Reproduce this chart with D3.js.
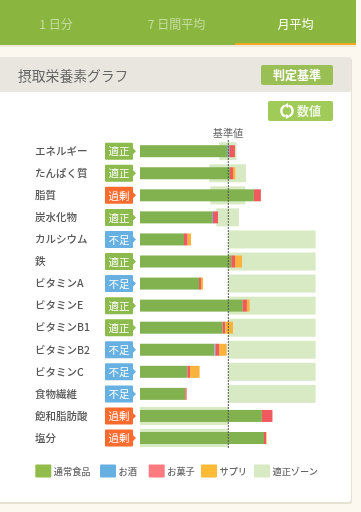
<!DOCTYPE html>
<html lang="ja">
<head>
<meta charset="UTF-8">
<title>摂取栄養素グラフ</title>
<script src="https://d3js.org/d3.v7.min.js"></script>
<style>
  html, body { margin: 0; padding: 0; background: #fdf8ef; overflow: hidden; }
  svg { display: block; font-family: "Noto Sans CJK JP", sans-serif; filter: blur(0.35px); }
</style>
</head>
<body>
<svg id="chart" width="361" height="512"></svg>
<script>
// values are percent of the reference value (基準値 = 100)
const nutrients = ["エネルギー", "たんぱく質", "脂質", "炭水化物", "カルシウム", "鉄", "ビタミンA", "ビタミンE", "ビタミンB1", "ビタミンB2", "ビタミンC", "食物繊維", "飽和脂肪酸", "塩分"];
const verdicts = ["適正", "適正", "過剰", "適正", "不足", "適正", "不足", "適正", "適正", "不足", "不足", "不足", "過剰", "過剰"];
const food = [98.9, 101.9, 129, 81.5, 49.8, 103.4, 66.8, 116.2, 93.6, 84.2, 53.6, 51.3, 138, 140.4];
const alcohol = [2.2, 0, 0, 1.1, 0, 0, 0, 0, 0, 1.1, 0, 0, 0, 0];
const sweets = [6.4, 3.4, 7.9, 5.7, 4.2, 4.2, 2.3, 4.9, 3, 4.2, 3, 1.5, 12, 2.4];
const supplement = [0, 2.6, 0, 0, 3.8, 7.9, 2.3, 3, 8.7, 8.7, 10.9, 0, 0, 0.6];
const zoneLow = [89.8, 78.5, 79.6, 86.4, 100, 100, 100, 100, 100, 100, 100, 100, 0, 0];
const zoneHigh = [109.4, 120, 119.2, 112, 198.9, 198.9, 198.9, 198.9, 198.9, 198.9, 198.9, 198.9, 100, 100];
const tabs = ["1 日分", "7 日間平均", "月平均"];
const seriesNames = ["通常食品", "お酒", "お菓子", "サプリ", "適正ゾーン"];

const green = "#82b150", blue = "#6ab0e0", red = "#ef5a5e", orange = "#f9b23c", zoneColor = "#d8eac4";
const verdictColor = { "適正": "#8cba4c", "過剰": "#fb6b2d", "不足": "#66b0e2" };

const svg = d3.select("#chart");

// tabs
svg.append("rect").attr("y", 45).attr("width", 356).attr("height", 2).attr("fill", "#efeadb");
svg.append("rect").attr("width", 356).attr("height", 45).attr("fill", "#8ab63f");
svg.append("rect").attr("x", 235).attr("y", 43).attr("width", 121).attr("height", 2).attr("fill", "#f7a823");
svg.selectAll(".tab").data(tabs).enter().append("text")
  .attr("x", (d, i) => [56, 176.5, 295.5][i])
  .attr("y", 29)
  .attr("text-anchor", "middle")
  .attr("font-size", 12)
  .attr("fill", (d, i) => i == 2 ? "#fff" : "#c5dca0")
  .text(d => d);

// card
svg.append("rect").attr("x", -4).attr("y", 58).attr("width", 356).attr("height", 446).attr("rx", 3).attr("fill", "#e6e1d0");
svg.append("rect").attr("x", -4).attr("y", 57).attr("width", 355).attr("height", 445).attr("rx", 3).attr("fill", "#fff");
svg.append("rect").attr("x", -4).attr("y", 57).attr("width", 355).attr("height", 35).attr("rx", 2).attr("fill", "#e8e6de");
svg.append("text").attr("x", 18).attr("y", 81).attr("font-size", 13.8).attr("fill", "#666").text("摂取栄養素グラフ");

// buttons
svg.append("rect").attr("x", 261).attr("y", 65).attr("width", 72).attr("height", 20).attr("rx", 2).attr("fill", "#9abf55");
svg.append("text").attr("x", 297).attr("y", 79.5).attr("text-anchor", "middle").attr("font-size", 12).attr("font-weight", 700).attr("fill", "#fff").text("判定基準");
svg.append("rect").attr("x", 268).attr("y", 101).attr("width", 65).attr("height", 20).attr("rx", 2).attr("fill", "#a0cb58");
svg.append("text").attr("x", 309).attr("y", 115.5).attr("text-anchor", "middle").attr("font-size", 12).attr("font-weight", 700).attr("fill", "#eef6df").text("数値");
const arc = d3.arc().innerRadius(4.4).outerRadius(6.8);
const icon = svg.append("g").attr("transform", "translate(287,111)");
icon.selectAll("path").data([[0.25, 2.7], [3.4, 5.85]]).enter().append("path")
  .attr("d", d => arc({ startAngle: d[0], endAngle: d[1] }))
  .attr("fill", "#fff");
icon.append("path").attr("d", "M1,-8L1,-3L-3,-5.5Z").attr("fill", "#fff");
icon.append("path").attr("d", "M-1,8L-1,3L3,5.5Z").attr("fill", "#fff");

// scales
const x = d3.scaleLinear().domain([0, 100]).range([140, 228.3]);
const y = d3.scalePoint().domain(nutrients).range([151.2, 438]);
const barH = 12, zoneH = 18;

// zones
svg.append("g").selectAll("rect").data(nutrients).enter().append("rect")
  .attr("x", (d, i) => x(zoneLow[i]))
  .attr("y", d => y(d) - zoneH / 2)
  .attr("width", (d, i) => x(zoneHigh[i]) - x(zoneLow[i]))
  .attr("height", zoneH)
  .attr("fill", zoneColor);

// stacked bars
const rows = nutrients.map((d, i) => ({ name: d, food: food[i], alcohol: alcohol[i], sweets: sweets[i], supplement: supplement[i] }));
const stack = d3.stack().keys(["food", "alcohol", "sweets", "supplement"]);
const colors = d3.scaleOrdinal().domain(["food", "alcohol", "sweets", "supplement"]).range([green, blue, red, orange]);
svg.append("g").selectAll("g").data(stack(rows)).enter().append("g")
  .attr("fill", s => colors(s.key))
  .selectAll("rect").data(s => s).enter().append("rect")
  .attr("x", d => x(d[0]))
  .attr("y", d => y(d.data.name) - barH / 2)
  .attr("width", d => x(d[1]) - x(d[0]))
  .attr("height", barH);

// reference line
svg.append("line").attr("x1", x(100)).attr("x2", x(100)).attr("y1", 140).attr("y2", 449)
  .attr("stroke", "#555").attr("stroke-dasharray", "2,1");
svg.append("text").attr("x", 228).attr("y", 137).attr("text-anchor", "middle").attr("font-size", 10.2).attr("fill", "#666").text("基準値");

// row labels
svg.append("g").selectAll("text").data(nutrients).enter().append("text")
  .attr("x", 35)
  .attr("y", d => y(d) + 3.8)
  .attr("font-size", 10.5)
  .attr("font-weight", 500)
  .attr("fill", "#555")
  .text(d => d);

// verdict tags
const tag = svg.append("g").selectAll("g").data(nutrients).enter().append("g")
  .attr("transform", d => "translate(105," + y(d) + ")");
tag.append("path")
  .attr("d", "M1,-8.5H27a1,1 0 0 1 1,1V-3L31,0L28,3V7.5a1,1 0 0 1 -1,1H1a1,1 0 0 1 -1,-1V-7.5a1,1 0 0 1 1,-1Z")
  .attr("fill", (d, i) => verdictColor[verdicts[i]]);
tag.append("text")
  .attr("x", 14).attr("y", 4.2)
  .attr("text-anchor", "middle")
  .attr("font-size", 10.5)
  .attr("fill", "#fff")
  .text((d, i) => verdicts[i]);

// legend
const legendX = [35.3, 100, 148.7, 201, 254];
const legendColors = ["#92bd4a", "#66afe1", "#ff7a7e", "#ffba36", zoneColor];
const legend = svg.append("g").selectAll("g").data(seriesNames).enter().append("g")
  .attr("transform", (d, i) => "translate(" + legendX[i] + ",464.5)");
legend.append("rect").attr("width", 16).attr("height", 13).attr("rx", 1).attr("fill", (d, i) => legendColors[i]);
legend.append("text").attr("x", 18.5).attr("y", 10.5).attr("font-size", 9.2).attr("font-weight", 500).attr("fill", "#666").text(d => d);
</script>
</body>
</html>
